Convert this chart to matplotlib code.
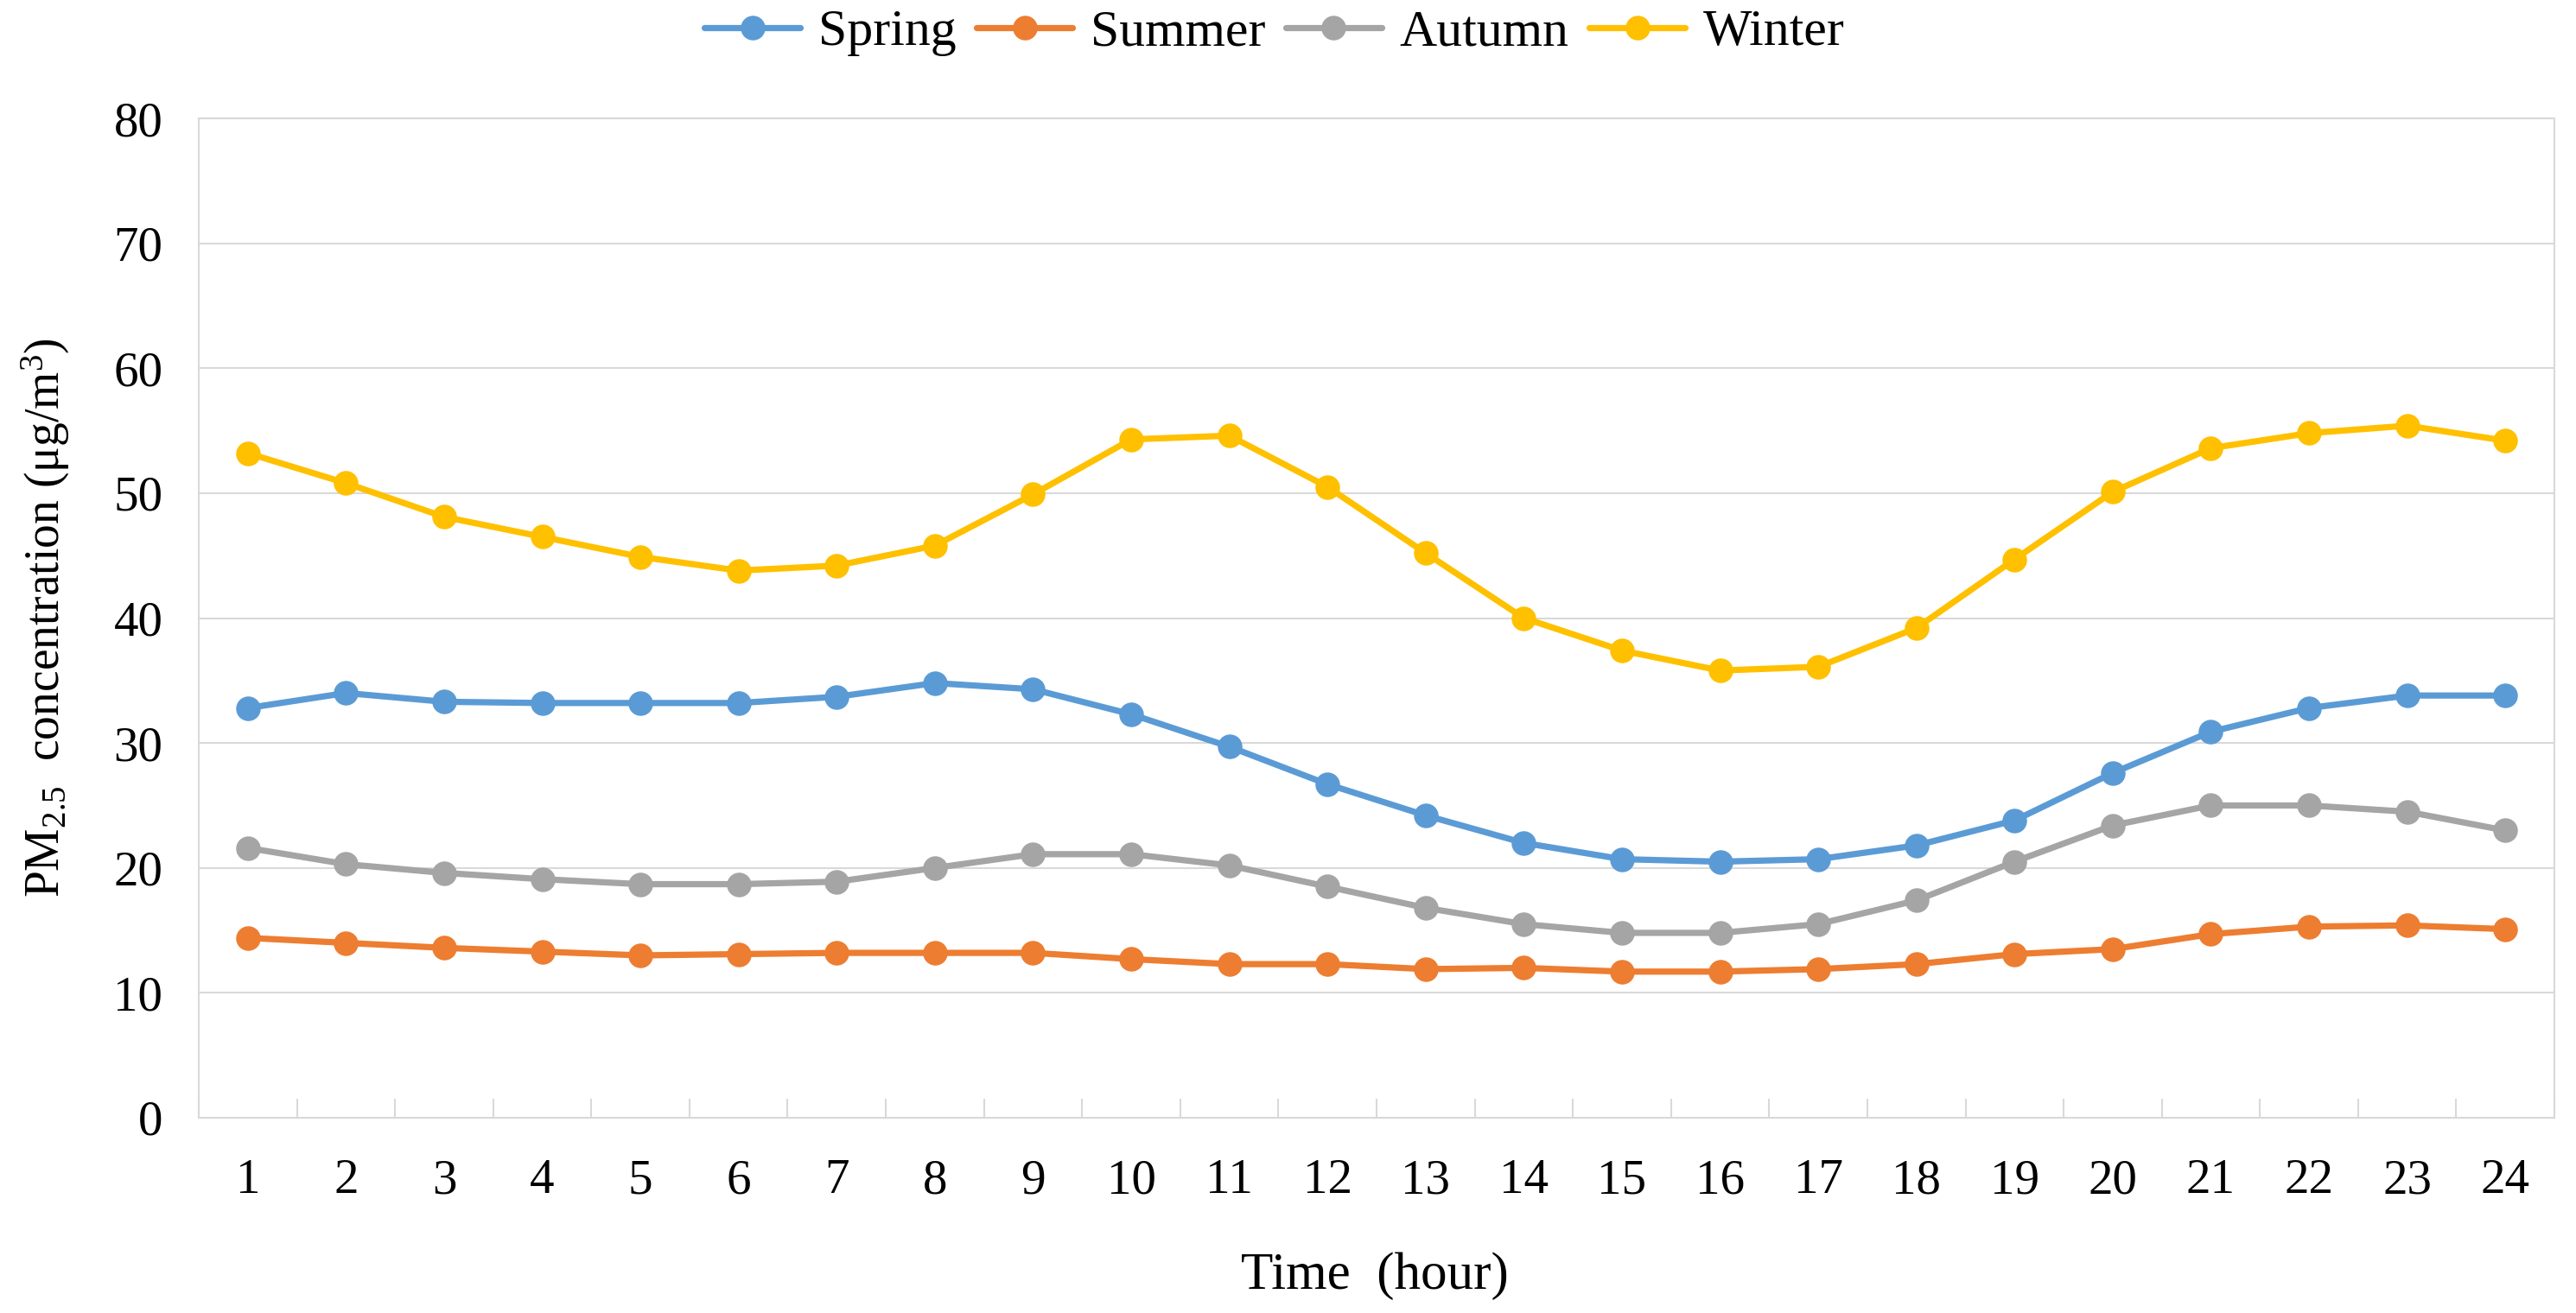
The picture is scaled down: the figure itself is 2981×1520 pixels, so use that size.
import matplotlib
matplotlib.use("Agg")
import matplotlib.pyplot as plt
import numpy as np

hours = list(range(1, 25))
spring = [32.8, 34.0, 33.3, 33.2, 33.2, 33.2, 33.7, 34.8, 34.3, 32.3, 29.7, 26.7,
          24.2, 22.0, 20.7, 20.5, 20.7, 21.8, 23.8, 27.6, 30.9, 32.8, 33.8, 33.8]
summer = [14.4, 14.0, 13.6, 13.3, 13.0, 13.1, 13.2, 13.2, 13.2, 12.7, 12.3, 12.3,
          11.9, 12.0, 11.7, 11.7, 11.9, 12.3, 13.1, 13.5, 14.7, 15.3, 15.4, 15.1]
autumn = [21.6, 20.3, 19.6, 19.1, 18.7, 18.7, 18.9, 20.0, 21.1, 21.1, 20.2, 18.5,
          16.8, 15.5, 14.8, 14.8, 15.5, 17.4, 20.5, 23.4, 25.0, 25.0, 24.5, 23.0]
winter = [53.2, 50.8, 48.1, 46.5, 44.9, 43.8, 44.2, 45.8, 49.9, 54.3, 54.6, 50.5,
          45.2, 40.0, 37.4, 35.8, 36.1, 39.2, 44.7, 50.1, 53.6, 54.8, 55.4, 54.2]
series_names = ["Spring", "Summer", "Autumn", "Winter"]
series_colors = ["#5B9BD5", "#ED7D31", "#A5A5A5", "#FFC000"]
yticks = [0, 10, 20, 30, 40, 50, 60, 70, 80]

plt.rcParams["font.family"] = ["Liberation Serif", "DejaVu Serif"]
plt.rcParams["mathtext.fontset"] = "custom"
plt.rcParams["mathtext.rm"] = "Liberation Serif"
plt.rcParams["mathtext.it"] = "Liberation Serif:italic"
plt.rcParams["mathtext.bf"] = "Liberation Serif:bold"

W, H = 2981, 1520
fig = plt.figure(figsize=(W / 100, H / 100), dpi=100)
ax = fig.add_axes([230 / W, 1 - 1294 / H, (2956 - 230) / W, (1294 - 137) / H])

grid_c = "#D9D9D9"
for vals, name, col in zip([spring, summer, autumn, winter], series_names, series_colors):
    ax.plot(hours, vals, color=col, lw=5.2, marker="o", markersize=19.5,
            markerfacecolor=col, markeredgecolor=col, label=name,
            solid_capstyle="round", solid_joinstyle="round")

ax.set_xlim(0.5, 24.5)
ax.set_ylim(0, 80)
ax.set_yticks(yticks)
ax.set_xticks(hours)
ax.set_xticks(np.arange(0.5, 25, 1.0), minor=True)
ax.tick_params(axis="x", which="major", length=0, labelsize=41, pad=34)
ax.tick_params(axis="x", which="minor", length=16, width=1.5, direction="in", color=grid_c)
ax.tick_params(axis="y", length=0, labelsize=41, pad=30)
ax.yaxis.grid(True, color=grid_c, lw=1.5)
ax.set_axisbelow(True)
for s in ax.spines.values():
    s.set_color(grid_c)
    s.set_linewidth(1.5)

ax.set_xlabel("Time  (hour)", fontsize=44)
ax.xaxis.set_label_coords((1591 - 230) / (2956 - 230), (1294 - 1477) / (1294 - 137))
ax.xaxis.label.set_va("center")
ax.set_ylabel(r"PM$_{2.5}$  concentration (μg/m$^{3}$)", fontsize=40)
ax.yaxis.set_label_coords((53 - 230) / (2956 - 230), 0.5)
ax.yaxis.label.set_va("center")
ax.yaxis.label.set_ha("center")

leg = fig.legend(loc="center", bbox_to_anchor=(1475 / W, 1 - 38 / H), ncol=4,
                 frameon=False, fontsize=43, handlelength=1.85, handletextpad=0.35,
                 columnspacing=0.4, borderaxespad=0, borderpad=0)

fig.savefig("out.png", dpi=100, facecolor="white")
